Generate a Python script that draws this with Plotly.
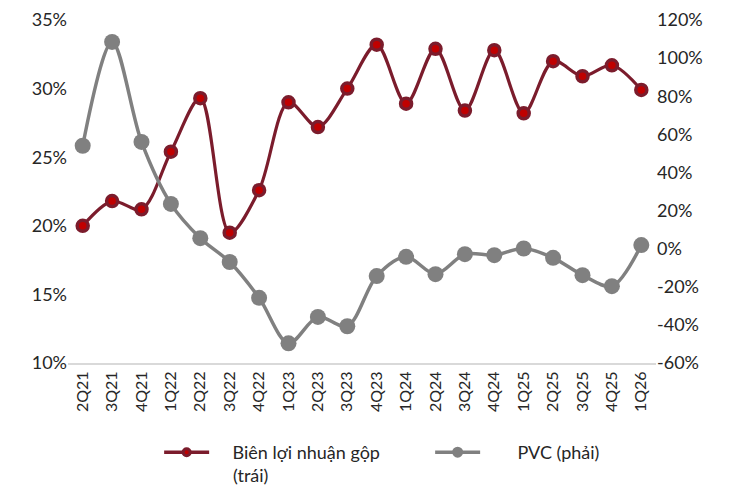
import plotly.graph_objects as go

categories = ["2Q21","3Q21","4Q21","1Q22","2Q22","3Q22","4Q22","1Q23","2Q23","3Q23",
              "4Q23","1Q24","2Q24","3Q24","4Q24","1Q25","2Q25","3Q25","4Q25","1Q26"]
gross_margin = [20.0, 21.8, 21.2, 25.4, 29.3, 19.5, 22.6, 29.0, 27.2, 30.0,
                33.2, 28.9, 32.9, 28.4, 32.8, 28.2, 32.0, 30.9, 31.7, 29.9]
pvc = [54, 108.5, 56, 23.5, 5.5, -7, -25.8, -49.7, -35.8, -40.7,
       -14.4, -4.3, -13.4, -2.9, -3.4, 0.1, -4.8, -13.9, -19.7, 1.9]

left_ticks = [10, 15, 20, 25, 30, 35]
right_ticks = [-60, -40, -20, 0, 20, 40, 60, 80, 100, 120]

FONT = "Lato"
TXT = "#262626"
RED_LINE = "#7B1C2C"
RED_FILL = "#C00000"
GRAY = "#808080"
NB = "\u00a0"

fig = go.Figure()
fig.add_trace(go.Scatter(
    x=categories, y=gross_margin, showlegend=False,
    mode="lines+markers", line=dict(color=RED_LINE, width=3.2, shape="spline", smoothing=0.9),
    marker=dict(size=11, color=RED_FILL, line=dict(color=RED_LINE, width=3.5)),
    yaxis="y"))
fig.add_trace(go.Scatter(
    x=categories, y=pvc, showlegend=False,
    mode="lines+markers", line=dict(color=GRAY, width=3.5, shape="spline", smoothing=0.9),
    marker=dict(size=16, color=GRAY),
    yaxis="y2"))
# legend entries
fig.add_trace(go.Scatter(
    x=[None], y=[None], name=NB * 4 + "Biên lợi nhuận gộp", mode="lines+markers",
    line=dict(color=RED_LINE, width=3.5), marker=dict(size=7, color=RED_FILL, line=dict(color=RED_LINE, width=3)),
    yaxis="y"))
fig.add_trace(go.Scatter(
    x=[None], y=[None], name=NB * 7 + "PVC (phải)", mode="lines+markers",
    line=dict(color=GRAY, width=3.5), marker=dict(size=11, color=GRAY),
    yaxis="y2"))

fig.add_annotation(text="(trái)", xref="paper", yref="paper", x=0.279, y=-0.3615,
                   xanchor="left", yanchor="bottom", showarrow=False, borderpad=0,
                   font=dict(family=FONT, size=18, color=TXT))

fig.update_layout(
    width=727, height=480,
    margin=dict(l=60, r=79, t=12, b=125, autoexpand=False),
    paper_bgcolor="white", plot_bgcolor="white",
    font=dict(family=FONT, size=18, color=TXT),
    showlegend=True,
    legend=dict(orientation="h", x=0.155, xanchor="left", y=-0.207, yanchor="top",
                font=dict(family=FONT, size=18, color=TXT), valign="middle",
                itemwidth=45, entrywidth=211, entrywidthmode="pixels"),
    xaxis=dict(type="category", range=[-0.5, len(categories) - 0.5], tickangle=-90,
               showgrid=False, showline=True,
               linecolor="#D9D9D9", linewidth=2, ticks="", tickfont=dict(size=16, color=TXT)),
    yaxis=dict(range=[10, 35], tickvals=left_ticks, ticktext=[f"{v}%" for v in left_ticks],
               showgrid=False, zeroline=False, showline=False, ticks="", tickfont=dict(size=18, color=TXT)),
    yaxis2=dict(range=[-60, 120], tickvals=right_ticks, ticktext=[f"{v}%" for v in right_ticks],
                overlaying="y", side="right", showgrid=False, zeroline=False, showline=False,
                ticks="", tickfont=dict(size=18, color=TXT)),
)

fig.write_html("out.html")
